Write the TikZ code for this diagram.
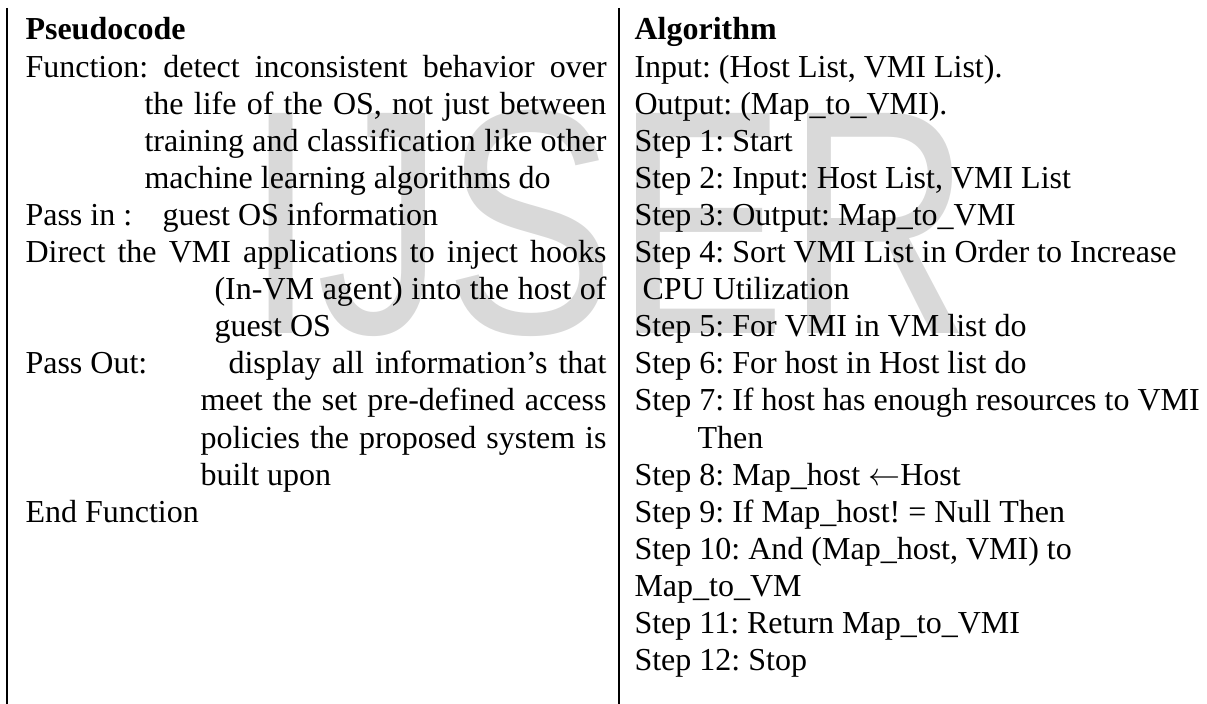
\documentclass[tikz,border=0pt]{standalone}
\usepackage{fontspec}
\setmainfont{Liberation Serif}
\newfontfamily\markfont{Liberation Sans}
\newcommand{\jline}[2]{\makebox[#1][s]{#2}}
\frenchspacing

\begin{document}
\begin{tikzpicture}[x=0.375pt,y=-0.375pt,
    txt/.style={anchor=base west,inner sep=0pt,font=\fontsize{12}{14}\selectfont},
    head/.style={txt,font=\fontsize{12}{14}\selectfont\bfseries},
    rule/.style={line width=0.9pt}]
  \useasboundingbox (0,0) rectangle (1207,704);

  \node[anchor=base west,inner sep=0pt,text=black!15,
        font=\markfont\fontsize{120}{120}\selectfont,xscale=0.8] (mark) at (245,334) {IJSER};

  \coordinate (ltop) at (7,8);
  \coordinate (lbot) at (7,704);
  \coordinate (mtop) at (619,8);
  \coordinate (mbot) at (619,704);
  \draw[rule] (ltop) -- (lbot);
  \draw[rule] (mtop) -- (mbot);

  \node[head] (pseudo) at (25,40) {Pseudocode};
  \node[txt] (func1) at (25,77.1) {\jline{217.9pt}{Function: detect inconsistent behavior over}};
  \node[txt] (func2) at (144,114.2) {\jline{173.2pt}{the life of the OS, not just between}};
  \node[txt] (func3) at (144,151.3) {\jline{173.2pt}{training and classification like other}};
  \node[txt] (func4) at (144,188.4) {machine learning algorithms do};
  \node[txt] (passin) at (25,225.5) {Pass in :};
  \node[txt] (passinval) at (162,225.5) {guest OS information};
  \node[txt] (direct1) at (25,262.6) {\jline{217.9pt}{Direct the VMI applications to inject hooks}};
  \node[txt] (direct2) at (214,299.7) {\jline{147pt}{(In-VM agent) into the host of}};
  \node[txt] (direct3) at (214,336.8) {guest OS};
  \node[txt] (passout) at (25,373.9) {Pass Out:};
  \node[txt] (passout1) at (228,373.9) {\jline{141.75pt}{display all information's that}};
  \node[txt] (passout2) at (200,411) {\jline{152.25pt}{meet the set pre-defined access}};
  \node[txt] (passout3) at (200,448.1) {\jline{152.25pt}{policies the proposed system is}};
  \node[txt] (passout4) at (200,485.2) {built upon};
  \node[txt] (endfunc) at (25,522.3) {End Function};

  \node[head] (algo) at (634,40) {Algorithm};
  \node[txt] (input) at (634,77.1) {Input: (Host List, VMI List).};
  \node[txt] (output) at (634,114.2) {Output: (Map\_to\_VMI).};
  \node[txt] (step1) at (634,151.3) {Step 1: Start};
  \node[txt] (step2) at (634,188.4) {Step 2: Input: Host List, VMI List};
  \node[txt] (step3) at (634,225.5) {Step 3: Output: Map\_to\_VMI};
  \node[txt] (step4) at (634,262.6) {Step 4: Sort VMI List in Order to Increase};
  \node[txt] (step4b) at (642,299.7) {CPU Utilization};
  \node[txt] (step5) at (634,336.8) {Step 5: For VMI in VM list do};
  \node[txt] (step6) at (634,373.9) {Step 6: For host in Host list do};
  \node[txt] (step7) at (634,411) {Step 7: If host has enough resources to VMI};
  \node[txt] (step7b) at (697,448.1) {Then};
  \node[txt] (step8) at (634,485.2) {Step 8: Map\_host $\leftarrow$Host};
  \node[txt] (step9) at (634,522.3) {Step 9: If Map\_host! = Null Then};
  \node[txt] (step10) at (634,559.4) {Step 10: And (Map\_host, VMI) to};
  \node[txt] (step10b) at (634,596.5) {Map\_to\_VM};
  \node[txt] (step11) at (634,633.6) {Step 11: Return Map\_to\_VMI};
  \node[txt] (step12) at (634,670.7) {Step 12: Stop};
\end{tikzpicture}
\end{document}
